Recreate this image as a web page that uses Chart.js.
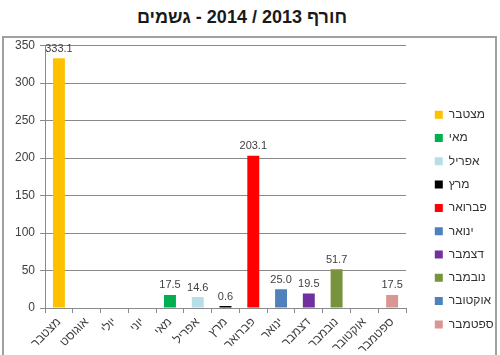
<!DOCTYPE html>
<html><head><meta charset="utf-8">
<script src="https://cdn.jsdelivr.net/npm/chart.js@4"></script>
<style>
html,body{margin:0;padding:0;background:#fff;width:500px;height:355px;overflow:hidden;}
#title{position:absolute;left:0;top:0;width:484px;height:36px;text-align:center;font:bold 18px "Liberation Sans",Arial,sans-serif;line-height:34px;color:#1a1a1a;}
#box{position:absolute;left:2px;top:36px;width:491px;height:330px;border:2px solid #a0a0a0;}
#wrap{position:relative;width:491px;height:317px;}
</style></head>
<body>
<div id="title" dir="rtl">חורף 2013 / 2014 - גשמים</div>
<div id="box"><div id="wrap"><canvas id="c"></canvas></div></div>
<script>
const categories = ["מצטבר","אוגוסט","יולי","יוני","מאי","אפריל","מרץ","פברואר","ינואר","דצמבר","נובמבר","אוקטובר","ספטמבר"];
const seriesNames = ["מצטבר","מאי","אפריל","מרץ","פברואר","ינואר","דצמבר","נובמבר","אוקטובר","ספטמבר"];
const seriesValues = [333.1, 17.5, 14.6, 0.6, 203.1, 25.0, 19.5, 51.7, null, 17.5];
const seriesColors = ["#FFC000","#00B050","#B7DEE8","#000000","#FF0000","#4F81BD","#7030A0","#77933C","#4F81BD","#D99694"];
const yTicks = [0,50,100,150,200,250,300,350];

const datasets = seriesNames.map((name, i) => {
  const idx = categories.indexOf(name);
  return {
    label: name,
    data: categories.map((c, j) => j === idx ? seriesValues[i] : null),
    backgroundColor: seriesColors[i],
    borderWidth: 0,
    categoryPercentage: 1,
    barPercentage: 0.43,
    minBarLength: 2,
    skipNull: true
  };
});

const valueLabels = {
  id: 'valueLabels',
  afterDatasetsDraw(chart) {
    const ctx = chart.ctx;
    ctx.save();
    ctx.font = '11px "Liberation Sans", Arial, sans-serif';
    ctx.fillStyle = '#404040';
    ctx.textAlign = 'center';
    ctx.textBaseline = 'bottom';
    chart.data.datasets.forEach((ds, i) => {
      const meta = chart.getDatasetMeta(i);
      meta.data.forEach((el, j) => {
        const v = ds.data[j];
        if (v === null || v === undefined) return;
        ctx.fillText(v.toFixed(1), el.x, el.y - 4);
      });
    });
    ctx.restore();
  }
};

new Chart(document.getElementById('c'), {
  type: 'bar',
  data: { labels: categories, datasets },
  options: {
    responsive: true,
    maintainAspectRatio: false,
    animation: false,
    layout: { padding: { top: 0, right: 0, left: 6, bottom: 0 } },
    plugins: {
      title: { display: false },
      tooltip: { enabled: false },
      legend: {
        position: 'right',
        align: 'start',
        maxWidth: 71.5,
        title: { display: true, text: ' ', padding: { top: 45, bottom: 0 }, font: { size: 12 } },
        labels: {
          boxWidth: 8, boxHeight: 8, padding: 11.3,
          color: '#333333',
          font: { family: '"Liberation Sans", Arial, sans-serif', size: 12 }
        }
      }
    },
    scales: {
      x: {
        afterFit(scale) { scale.height = 47; },
        grid: { display: true, drawOnChartArea: false, drawTicks: true, tickLength: 5, color: '#8a8a8a', offset: true },
        border: { display: true, color: '#8a8a8a' },
        ticks: { maxRotation: 45, minRotation: 45, color: '#404040', padding: 2, autoSkip: false,
          font: { family: '"Liberation Sans", Arial, sans-serif', size: 12 } }
      },
      y: {
        min: 0, max: 350,
        afterBuildTicks(scale) { scale.ticks = yTicks.map(v => ({ value: v })); },
        grid: { color: '#8a8a8a', tickLength: 5, drawTicks: true },
        border: { display: true, color: '#8a8a8a' },
        ticks: { color: '#404040', padding: 5,
          font: { family: '"Liberation Sans", Arial, sans-serif', size: 12, lineHeight: 0.45 } }
      },
      y2: {
        position: 'right',
        display: true,
        grid: { display: false },
        border: { display: false },
        ticks: { display: false },
        afterFit(scale) { scale.width = 17.5; }
      }
    }
  },
  plugins: [valueLabels]
});
</script>
</body></html>
